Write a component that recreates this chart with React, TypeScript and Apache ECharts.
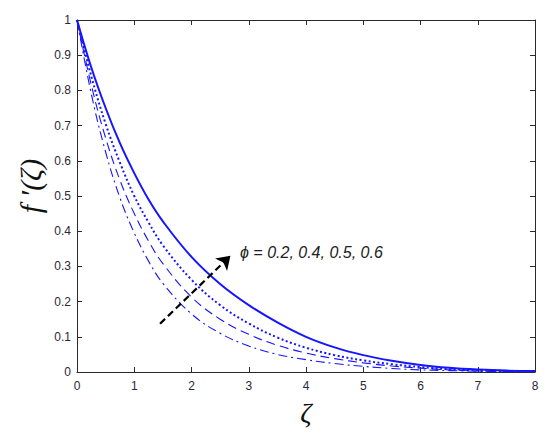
import React, { useEffect, useRef } from "react";
import * as echarts from "echarts";

const zeta = [0, 0.25, 0.5, 0.75, 1, 1.25, 1.5, 2, 2.5, 3, 3.5, 4, 4.5, 5, 5.5, 6, 6.5, 7, 7.5, 8];
const phi02 = [1, 0.865, 0.75, 0.65, 0.565, 0.49, 0.428, 0.327, 0.25, 0.19, 0.141, 0.1, 0.07, 0.048, 0.032, 0.02, 0.012, 0.007, 0.004, 0.003];
const phi04 = [1, 0.84, 0.705, 0.595, 0.5, 0.425, 0.36, 0.262, 0.19, 0.138, 0.098, 0.069, 0.048, 0.033, 0.022, 0.014, 0.008, 0.005, 0.003, 0.002];
const phi05 = [1, 0.815, 0.665, 0.545, 0.45, 0.372, 0.308, 0.213, 0.15, 0.107, 0.076, 0.054, 0.038, 0.026, 0.017, 0.011, 0.006, 0.003, 0.002, 0.001];
const phi06 = [1, 0.79, 0.625, 0.495, 0.395, 0.315, 0.252, 0.165, 0.11, 0.074, 0.05, 0.035, 0.024, 0.016, 0.01, 0.006, 0.004, 0.002, 0.001, 0.001];
const xTicks = [0, 1, 2, 3, 4, 5, 6, 7, 8];
const arrowStart = [1.45, 0.137];
const arrowEnd = [2.68, 0.33];
const annotation = "ϕ = 0.2, 0.4, 0.5, 0.6";

const toPairs = (ys: number[]) => zeta.map((x, i) => [x, ys[i]]);

export default function App() {
  const ref = useRef<HTMLDivElement>(null);
  useEffect(() => {
    if (!ref.current) return;
    const chart = echarts.init(ref.current, undefined, { renderer: "svg" });
    const axisColor = "#2a2a2a";
    const labelStyle = { color: "#2b2838", fontSize: 12, fontFamily: "Arial, Liberation Sans, sans-serif" };
    const blue = "#1515ff";
    chart.setOption({
      animation: false,
      backgroundColor: "#ffffff",
      grid: { left: 77, right: 15, top: 20, bottom: 62 },
      xAxis: [
        {
          type: "value", min: 0, max: 8, interval: 1,
          axisLine: { lineStyle: { color: axisColor, width: 1 } },
          axisTick: { inside: true, length: 5, lineStyle: { color: axisColor } },
          axisLabel: { ...labelStyle, margin: 8, formatter: (v: number) => (xTicks.includes(v) ? String(v) : "") },
          splitLine: { show: false },
        },
        {
          type: "value", min: 0, max: 8, interval: 1, position: "top",
          axisLine: { onZero: false, lineStyle: { color: axisColor, width: 1 } },
          axisTick: { inside: true, length: 5, lineStyle: { color: axisColor } },
          axisLabel: { show: false },
          splitLine: { show: false },
        },
      ],
      yAxis: [
        {
          type: "value", min: 0, max: 1, interval: 0.1,
          axisLine: { show: true, lineStyle: { color: axisColor, width: 1 } },
          axisTick: { show: true, inside: true, length: 5, lineStyle: { color: axisColor } },
          axisLabel: { ...labelStyle, margin: 6, formatter: (v: number) => String(Math.round(v * 10) / 10) },
          splitLine: { show: false },
        },
        {
          type: "value", min: 0, max: 1, interval: 0.1, position: "right",
          axisLine: { show: true, onZero: false, lineStyle: { color: axisColor, width: 1 } },
          axisTick: { show: true, inside: true, length: 5, lineStyle: { color: axisColor } },
          axisLabel: { show: false },
          splitLine: { show: false },
        },
      ],
      series: [
        {
          type: "line", data: toPairs(phi02), smooth: 0.4, showSymbol: false,
          lineStyle: { color: blue, width: 2, type: "solid" },
          markLine: {
            silent: true,
            symbol: ["none", "arrow"],
            symbolSize: 13,
            label: { show: false },
            lineStyle: { color: "#000000", width: 2.2, type: [7, 4] },
            data: [[{ coord: arrowStart }, { coord: arrowEnd }]],
          },
        },
        {
          type: "line", data: toPairs(phi04), smooth: 0.4, showSymbol: false,
          lineStyle: { color: blue, width: 2, type: [2, 2.5] },
        },
        {
          type: "line", data: toPairs(phi05), smooth: 0.4, showSymbol: false,
          lineStyle: { color: blue, width: 1.1, type: [9, 5] },
        },
        {
          type: "line", data: toPairs(phi06), smooth: 0.4, showSymbol: false,
          lineStyle: { color: blue, width: 1.1, type: [9, 4, 2, 4] },
        },
      ],
      graphic: [
        {
          type: "text", left: 240, top: 244, silent: true,
          style: { text: annotation, fontSize: 16, fontStyle: "italic", fontFamily: "Arial, Liberation Sans, sans-serif", fill: "#222" },
        },
        {
          type: "text", x: 306, y: 412, silent: true,
          style: { text: "ζ", fontSize: 28, fontStyle: "italic", fontFamily: "Liberation Serif, DejaVu Serif, serif", fill: "#111", align: "center", verticalAlign: "middle" },
        },
        {
          type: "text", x: 30, y: 186, rotation: Math.PI / 2, silent: true,
          style: { text: "f ′(ζ)", fontSize: 30, fontStyle: "italic", fontFamily: "Liberation Serif, DejaVu Serif, serif", fill: "#111", align: "center", verticalAlign: "middle" },
        },
      ],
    });
    return () => chart.dispose();
  }, []);
  return <div ref={ref} style={{ width: 550, height: 434, position: "absolute", left: 0, top: 0 }} />;
}
